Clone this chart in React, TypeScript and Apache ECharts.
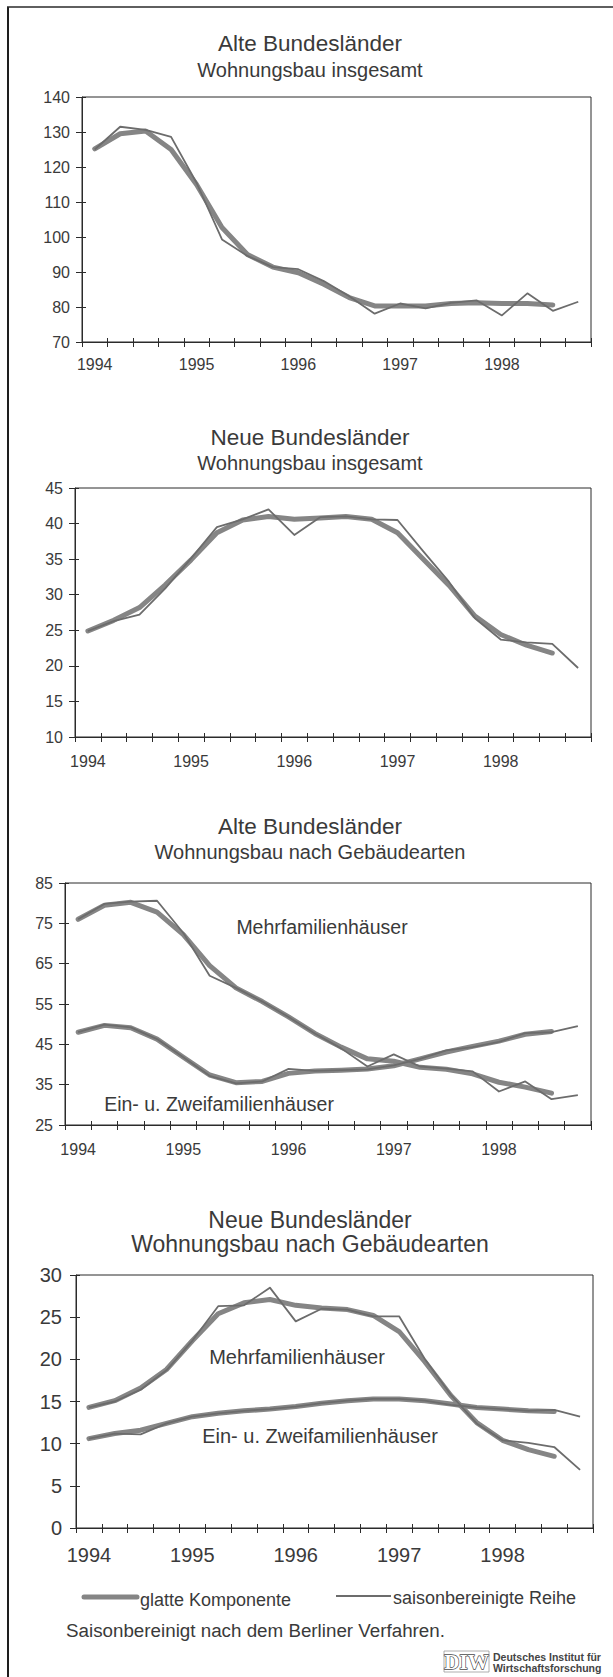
import React, { useEffect, useRef } from "react";
import * as echarts from "echarts";

// ---- categories (quarters 1994 Q1 .. 1998 Q4) ----
const quarters = [
  "1994 Q1", "1994 Q2", "1994 Q3", "1994 Q4",
  "1995 Q1", "1995 Q2", "1995 Q3", "1995 Q4",
  "1996 Q1", "1996 Q2", "1996 Q3", "1996 Q4",
  "1997 Q1", "1997 Q2", "1997 Q3", "1997 Q4",
  "1998 Q1", "1998 Q2", "1998 Q3", "1998 Q4",
];

// ---- Chart 1: Alte Bundesländer, Wohnungsbau insgesamt ----
const alteGesamtGlatt = [125.2, 129.5, 130.3, 125.0, 115.0, 102.7, 95.0, 91.4, 89.8, 86.5, 82.7, 80.3, 80.3, 80.3, 81.0, 81.2, 81.0, 81.0, 80.6, null];
const alteGesamtSaison = [125.0, 131.5, 130.6, 128.6, 115.5, 99.3, 94.6, 91.4, 90.8, 87.4, 83.1, 78.1, 81.0, 79.6, 81.2, 81.9, 77.6, 83.9, 78.9, 81.5];

// ---- Chart 2: Neue Bundesländer, Wohnungsbau insgesamt ----
const neueGesamtGlatt = [24.9, 26.4, 28.2, 31.4, 34.9, 38.7, 40.5, 41.0, 40.6, 40.8, 41.0, 40.6, 38.7, 35.0, 31.3, 27.0, 24.4, 22.9, 21.8, null];
const neueGesamtSaison = [24.9, 26.3, 27.2, 30.9, 35.1, 39.5, 40.6, 42.0, 38.4, 40.9, 41.0, 40.6, 40.5, 36.1, 31.8, 26.7, 23.7, 23.3, 23.1, 19.7];

// ---- Chart 3: Alte Bundesländer nach Gebäudearten ----
const alteMehrGlatt = [76.0, 79.5, 80.2, 77.8, 72.2, 64.5, 59.0, 55.6, 51.8, 47.7, 44.3, 41.4, 40.8, 39.3, 38.8, 37.7, 35.6, 34.4, 32.9, null];
const alteMehrSaison = [76.0, 79.8, 80.4, 80.6, 72.6, 62.0, 59.0, 55.6, 51.8, 47.7, 44.0, 39.5, 42.5, 39.5, 39.0, 38.3, 33.3, 35.8, 31.4, 32.4];
const alteEinGlatt = [48.0, 49.7, 49.1, 46.3, 41.8, 37.4, 35.5, 35.8, 37.8, 38.4, 38.6, 38.9, 39.7, 41.4, 43.1, 44.5, 45.8, 47.5, 48.2, null];
const alteEinSaison = [48.0, 49.9, 49.2, 46.3, 41.8, 37.2, 35.3, 35.8, 38.9, 38.4, 38.6, 38.8, 39.8, 41.4, 43.5, 44.3, 45.6, 47.8, 48.0, 49.5];

// ---- Chart 4: Neue Bundesländer nach Gebäudearten ----
const neueMehrGlatt = [14.3, 15.1, 16.6, 18.8, 22.2, 25.4, 26.7, 27.1, 26.4, 26.1, 25.9, 25.2, 23.3, 19.7, 15.7, 12.5, 10.4, 9.3, 8.5, null];
const neueMehrSaison = [14.3, 15.0, 16.4, 18.7, 22.2, 26.3, 26.4, 28.5, 24.5, 26.0, 25.9, 25.1, 25.1, 20.0, 15.8, 12.4, 10.4, 10.1, 9.6, 6.9];
const neueEinGlatt = [10.6, 11.2, 11.6, 12.4, 13.2, 13.6, 13.9, 14.1, 14.4, 14.8, 15.1, 15.3, 15.3, 15.1, 14.7, 14.3, 14.1, 13.9, 13.8, null];
const neueEinSaison = [10.6, 11.2, 11.1, 12.4, 13.2, 13.6, 13.9, 14.1, 14.4, 14.8, 15.1, 15.3, 15.3, 15.1, 14.6, 14.3, 14.1, 13.9, 14.0, 13.2];

// ---- y-axis ranges ----
const yRanges = [
  { min: 70, max: 140, interval: 10 },
  { min: 10, max: 45, interval: 5 },
  { min: 25, max: 85, interval: 10 },
  { min: 0, max: 30, interval: 5 },
];

const titles = ["Alte Bundesländer", "Neue Bundesländer", "Alte Bundesländer", "Neue Bundesländer"];
const subtitles = ["Wohnungsbau insgesamt", "Wohnungsbau insgesamt", "Wohnungsbau nach Gebäudearten", "Wohnungsbau nach Gebäudearten"];
const legendNames = ["glatte Komponente", "saisonbereinigte Reihe"];
const footnote = "Saisonbereinigt nach dem Berliner Verfahren.";

const FONT = "'Liberation Sans', Arial, Helvetica, sans-serif";
const TEXT = "#3a3a3a";
const AXIS = "#2b2b2b";
const THICK = "#858585";
const THIN = "#6c6c6c";

export default function App() {
  const ref = useRef<HTMLDivElement>(null);

  useEffect(() => {
    if (!ref.current) return;
    const chart = echarts.init(ref.current, null, { renderer: "svg" });

    const grids = [
      { left: 82, top: 97, width: 509, height: 245, fs: 16, lm: 14, ym: 12 },
      { left: 75, top: 488, width: 516, height: 249, fs: 16, lm: 16, ym: 12 },
      { left: 65, top: 883, width: 526, height: 242, fs: 16, lm: 16, ym: 12 },
      { left: 76, top: 1275, width: 517, height: 253, fs: 20, lm: 17, ym: 14 },
    ];

    const seriesData: { glatt: (number | null)[]; saison: number[] }[][] = [
      [{ glatt: alteGesamtGlatt, saison: alteGesamtSaison }],
      [{ glatt: neueGesamtGlatt, saison: neueGesamtSaison }],
      [
        { glatt: alteMehrGlatt, saison: alteMehrSaison },
        { glatt: alteEinGlatt, saison: alteEinSaison },
      ],
      [
        { glatt: neueMehrGlatt, saison: neueMehrSaison },
        { glatt: neueEinGlatt, saison: neueEinSaison },
      ],
    ];

    const xAxis: any[] = [];
    const yAxis: any[] = [];
    const series: any[] = [];

    grids.forEach((g, k) => {
      const base = {
        type: "category",
        gridIndex: k,
        data: quarters,
        boundaryGap: true,
        position: "bottom",
        splitLine: { show: false },
      };
      xAxis.push({
        ...base,
        axisLine: { show: true, lineStyle: { color: AXIS, width: 1 } },
        axisTick: { show: true, interval: 0, length: 5, alignWithLabel: false, lineStyle: { color: AXIS, width: 1 } },
        axisLabel: {
          interval: 3,
          formatter: (v: string) => v.slice(0, 4),
          color: TEXT,
          fontSize: g.fs,
          fontFamily: FONT,
          margin: g.lm,
        },
      });
      xAxis.push({
        ...base,
        axisLine: { show: false },
        axisTick: { show: true, inside: true, interval: 0, length: 4, alignWithLabel: false, lineStyle: { color: AXIS, width: 1 } },
        axisLabel: { show: false },
      });
      const r = yRanges[k];
      yAxis.push({
        type: "value",
        gridIndex: k,
        min: r.min,
        max: r.max,
        interval: r.interval,
        position: "left",
        splitLine: { show: false },
        axisLine: { show: true, lineStyle: { color: AXIS, width: 1 } },
        axisTick: { show: true, length: 6, lineStyle: { color: AXIS, width: 1 } },
        axisLabel: { color: TEXT, fontSize: g.fs, fontFamily: FONT, margin: g.ym },
      });
      yAxis.push({
        type: "value",
        gridIndex: k,
        min: r.min,
        max: r.max,
        interval: r.interval,
        position: "left",
        splitLine: { show: false },
        axisLine: { show: false },
        axisTick: { show: true, inside: true, length: 4, lineStyle: { color: AXIS, width: 1 } },
        axisLabel: { show: false },
      });

      seriesData[k].forEach((pair) => {
        series.push({
          type: "line",
          name: legendNames[0],
          xAxisIndex: 2 * k,
          yAxisIndex: 2 * k,
          data: pair.glatt,
          symbol: "none",
          connectNulls: false,
          lineStyle: { color: THICK, width: 5, cap: "round", join: "round" },
          z: 2,
        });
      });
      seriesData[k].forEach((pair) => {
        series.push({
          type: "line",
          name: legendNames[1],
          xAxisIndex: 2 * k,
          yAxisIndex: 2 * k,
          data: pair.saison,
          symbol: "none",
          lineStyle: { color: THIN, width: 1.8, join: "round" },
          z: 3,
        });
      });
    });

    const titleY = [
      [43, 70],
      [437, 463],
      [826, 852],
      [1220, 1244],
    ];
    const titleSizes = [
      [22.5, 20],
      [22.5, 20],
      [22.5, 20],
      [23, 23],
    ];

    const text = (x: number, y: number, t: string, size: number, align = "center", extra: any = {}) => ({
      type: "text",
      x,
      y,
      silent: true,
      style: {
        text: t,
        fill: TEXT,
        fontSize: size,
        fontFamily: FONT,
        align,
        verticalAlign: "middle",
        ...extra,
      },
    });

    const graphic: any[] = [];
    // outer frame (left and top edges)
    graphic.push({ type: "line", silent: true, shape: { x1: 8, y1: 7, x2: 8, y2: 1677 }, style: { stroke: "#1e1e1e", lineWidth: 2 } });
    graphic.push({ type: "line", silent: true, shape: { x1: 7, y1: 7, x2: 613, y2: 7 }, style: { stroke: "#2a2a2a", lineWidth: 1.5 } });

    titleY.forEach((ys, k) => {
      graphic.push(text(310, ys[0], titles[k], titleSizes[k][0]));
      graphic.push(text(310, ys[1], subtitles[k], titleSizes[k][1]));
    });

    // series labels inside plots
    graphic.push(text(322, 927, "Mehrfamilienhäuser", 19.5));
    graphic.push(text(219, 1104, "Ein- u. Zweifamilienhäuser", 19.5));
    graphic.push(text(297, 1357, "Mehrfamilienhäuser", 20));
    graphic.push(text(320, 1436, "Ein- u. Zweifamilienhäuser", 20));

    // legend
    graphic.push({ type: "line", silent: true, shape: { x1: 84, y1: 1597, x2: 137, y2: 1597 }, style: { stroke: THICK, lineWidth: 5, lineCap: "round" } });
    graphic.push(text(140, 1600, legendNames[0], 18, "left"));
    graphic.push({ type: "line", silent: true, shape: { x1: 336, y1: 1596, x2: 391, y2: 1596 }, style: { stroke: THIN, lineWidth: 1.8 } });
    graphic.push(text(393, 1598, legendNames[1], 18, "left"));

    // footnote
    graphic.push(text(66, 1630, footnote, 18.8, "left"));

    // DIW logo
    graphic.push({ type: "rect", silent: true, shape: { x: 444, y: 1651, width: 45, height: 21 }, style: { fill: "#ffffff", stroke: "#9a9a9a", lineWidth: 0.8 } });
    graphic.push(text(466.5, 1662, "DIW", 21, "center", { fill: "#ffffff", stroke: "#4a4a4a", lineWidth: 1.3, fontWeight: "bold", fontFamily: "'Liberation Serif', serif" }));
    graphic.push(text(493, 1657, "Deutsches Institut für", 10.5, "left", { fontWeight: "bold", fill: "#444" }));
    graphic.push(text(493, 1668, "Wirtschaftsforschung", 10.5, "left", { fontWeight: "bold", fill: "#444" }));

    chart.setOption({
      animation: false,
      backgroundColor: "#ffffff",
      grid: grids.map((g) => ({
        left: g.left,
        top: g.top,
        width: g.width,
        height: g.height,
        show: true,
        borderColor: AXIS,
        borderWidth: 1,
        backgroundColor: "transparent",
        containLabel: false,
      })),
      xAxis,
      yAxis,
      series,
      graphic,
    });

    return () => {
      chart.dispose();
    };
  }, []);

  return (
    <div
      ref={ref}
      style={{ position: "absolute", left: 0, top: 0, width: 613, height: 1677, background: "#fff" }}
    />
  );
}
